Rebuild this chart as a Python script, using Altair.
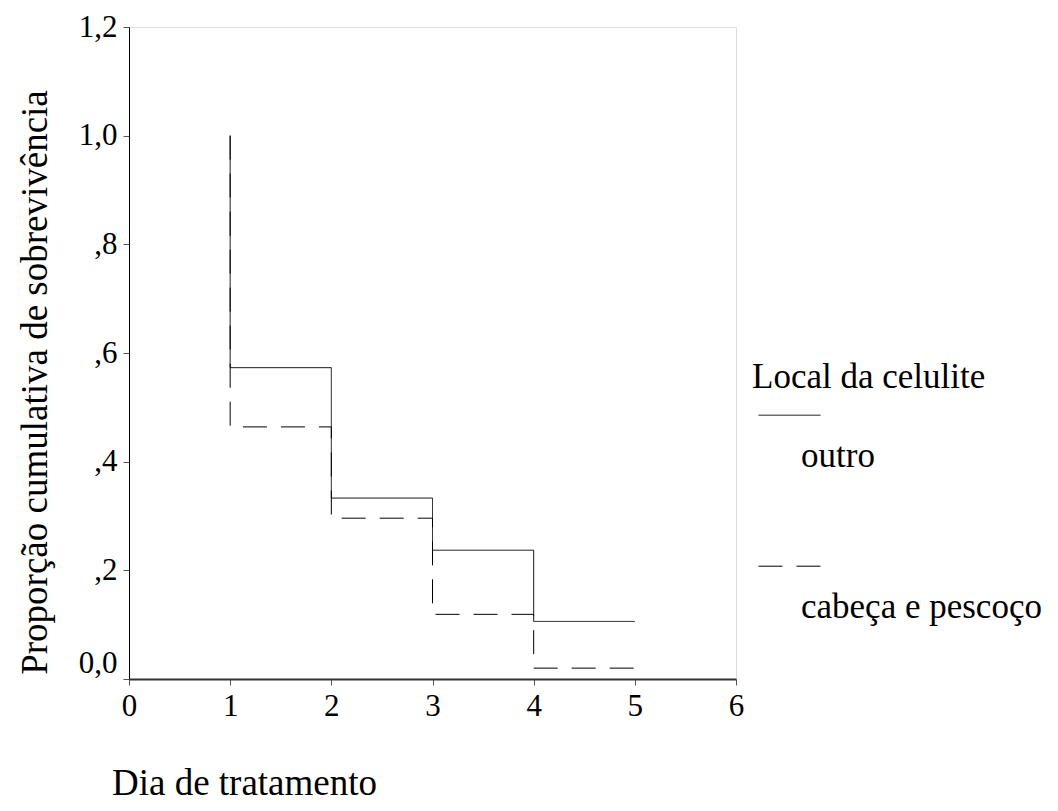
import altair as alt
import pandas as pd

# Kaplan-Meier style step curves
groups = ["outro", "cabeça e pescoço"]
days_outro = [1, 1, 2, 3, 4, 5]
surv_outro = [1.0, 0.573, 0.333, 0.237, 0.106, 0.106]
days_cabeca = [1, 1, 2, 3, 4, 5]
surv_cabeca = [1.0, 0.464, 0.296, 0.119, 0.020, 0.020]
x_ticks = [0, 1, 2, 3, 4, 5, 6]
y_ticks = [0.0, 0.2, 0.4, 0.6, 0.8, 1.0, 1.2]

rows = []
for i, (d, s) in enumerate(zip(days_outro, surv_outro)):
    rows.append({"dia": d, "prop": s, "grupo": groups[0], "ordem": i})
for i, (d, s) in enumerate(zip(days_cabeca, surv_cabeca)):
    rows.append({"dia": d, "prop": s, "grupo": groups[1], "ordem": i})
df = pd.DataFrame(rows)

FONT = "Liberation Serif"

y_label_expr = (
    "datum.value == 0 ? '0,0' : (datum.value < 0.99 ? ',' + format(datum.value * 10, '.0f') "
    ": replace(format(datum.value, '.1f'), '.', ','))"
)

chart = alt.Chart(df).mark_line(
    interpolate="step-after", color="black", strokeWidth=1
).encode(
    x=alt.X(
        "dia:Q",
        scale=alt.Scale(domain=[0, 6], nice=False),
        axis=alt.Axis(
            values=x_ticks, format="d", title="Dia de tratamento",
            titleFont=FONT, titleFontSize=37, titleFontWeight="normal", titleColor="black",
            titleX=115, titleY=104, titleAlign="center", titleBaseline="middle",
            labelFont=FONT, labelFontSize=31, labelColor="black", labelPadding=6,
            domainColor="#333333", domainWidth=2, tickColor="#555555", tickSize=6, tickWidth=1,
            grid=False, labelFlush=False,
        ),
    ),
    y=alt.Y(
        "prop:Q",
        scale=alt.Scale(domain=[0, 1.2], nice=False, zero=True),
        axis=alt.Axis(
            values=y_ticks, labelExpr=y_label_expr,
            title="Proporção cumulativa de sobrevivência",
            titleFont=FONT, titleFontSize=37, titleFontWeight="normal", titleColor="black",
            titleX=-94, titleY=355, titleAngle=270, titleAlign="center", titleBaseline="middle",
            labelFont=FONT, labelFontSize=31, labelColor="black", labelPadding=6,
            labelBaseline={"condition": {"test": "datum.value == 0", "value": "bottom"}, "value": "middle"},
            domainColor="black", domainWidth=1, tickColor="#555555", tickSize=6, tickWidth=1,
            grid=False, labelFlush=False,
        ),
    ),
    strokeDash=alt.StrokeDash(
        "grupo:N",
        scale=alt.Scale(domain=groups, range=[[1, 0], [24, 14]]),
        legend=alt.Legend(
            title="Local da celulite", orient="none", legendX=623, legendY=333,
            titleFont=FONT, titleFontSize=35, titleFontWeight="normal", titleColor="black",
            titleLimit=400, titlePadding=29,
            labelFont=FONT, labelFontSize=35, labelColor="black", labelLimit=400,
            symbolType="M -1 -1.3 L 1 -1.3", symbolSize=3844, symbolStrokeWidth=1,
            symbolStrokeColor="black", symbolFillColor="transparent",
            symbolOffset=6, labelOffset={"expr": "-20"}, rowPadding=90, padding=0,
        ),
    ),
    order="ordem:Q",
).properties(
    width=607, height=652,
    padding={"left": 121, "top": 19, "right": 312, "bottom": 126},
    autosize="none",
).configure_view(
    stroke="black", strokeWidth=1
).configure(background="white")

chart.save("out.html", embed_options={"renderer": "svg", "actions": False})
